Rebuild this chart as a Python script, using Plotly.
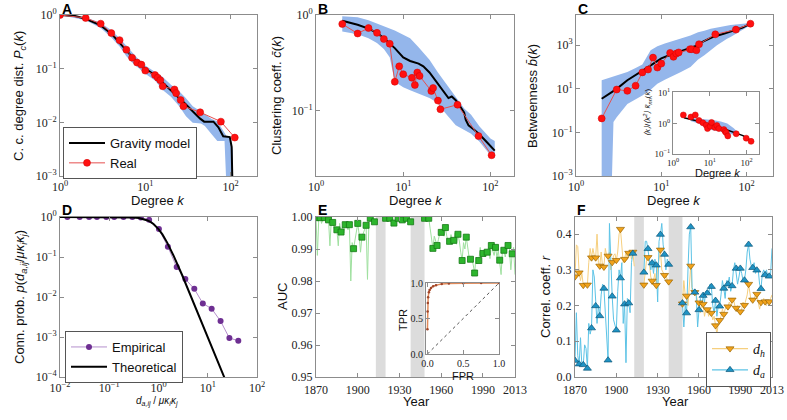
import plotly.graph_objects as go

# ---------------- Panel A : connected-component degree distribution ----------------
a_real_k = [1, 2, 3, 4, 5, 6, 7, 8, 9, 10, 13, 14, 15, 16, 22, 23, 26, 28, 44, 77, 112]
a_real_p = [1.0, 0.88, 0.69, 0.46, 0.34, 0.226, 0.16, 0.13, 0.119, 0.092, 0.076, 0.068,
            0.061, 0.047, 0.041, 0.035, 0.026, 0.020, 0.0154, 0.0103, 0.0052]
a_model_k = [1, 1.5, 2, 3, 4, 5, 6, 7, 10, 13, 16, 22, 28, 36.6, 44, 49, 63, 72, 82, 98, 103, 105]
a_model_p = [1.0, 0.96, 0.85, 0.64, 0.45, 0.31, 0.22, 0.165, 0.1, 0.075, 0.054, 0.034, 0.024,
             0.0156, 0.0117, 0.0103, 0.0103, 0.0081, 0.0055, 0.0053, 0.0035, 0.0008]
a_band_k = [1, 2, 3, 4, 5, 6, 7, 8, 10, 13, 16, 20, 25, 30, 36, 45, 50, 60, 70, 85, 90, 100, 106]
a_band_hi = [1.0, 0.9, 0.72, 0.52, 0.37, 0.27, 0.2, 0.16, 0.115, 0.088, 0.07, 0.05, 0.038, 0.028,
             0.02, 0.016, 0.014, 0.0115, 0.0105, 0.0065, 0.0055, 0.005, 0.003]
a_band_lo = [1.0, 0.8, 0.57, 0.38, 0.26, 0.17, 0.13, 0.11, 0.08, 0.06, 0.04, 0.03, 0.02, 0.013,
             0.0098, 0.0095, 0.0085, 0.006, 0.0045, 0.0045, 0.0005, 0.0005, 0.0005]

# ---------------- Panel B : clustering ----------------
b_real_k = [2, 3, 4, 5, 6, 7, 8, 9, 10, 12.6, 13.6, 14.5, 15.4, 21, 22, 25, 26.7, 41.9, 73, 103]
b_real_c = [0.805, 0.64, 0.73, 0.65, 0.56, 0.50, 0.20, 0.29, 0.24, 0.22, 0.185, 0.25, 0.23,
            0.16, 0.172, 0.127, 0.103, 0.115, 0.054, 0.034]
b_model_k = [2, 3, 4, 5, 6, 7, 8, 10, 12, 15, 17, 20, 23, 27, 30, 33, 36, 40, 45, 50, 52, 56, 65, 75, 90, 112]
b_model_c = [0.87, 0.79, 0.72, 0.65, 0.57, 0.5, 0.45, 0.36, 0.33, 0.31, 0.29, 0.25, 0.21, 0.17,
             0.15, 0.135, 0.14, 0.128, 0.11, 0.095, 0.08, 0.07, 0.063, 0.056, 0.047, 0.038]
b_band_k = [2, 3, 4, 5, 6, 7, 8, 10, 12, 15, 20, 25, 30, 40, 50, 60, 75, 100, 112]
b_band_hi = [0.97, 0.95, 0.88, 0.81, 0.76, 0.72, 0.69, 0.62, 0.57, 0.46, 0.34, 0.25, 0.2, 0.14,
             0.105, 0.09, 0.068, 0.051, 0.048]
b_band_lo = [0.67, 0.63, 0.57, 0.51, 0.44, 0.36, 0.2, 0.175, 0.163, 0.15, 0.135, 0.12, 0.095,
             0.07, 0.062, 0.057, 0.047, 0.034, 0.032]

# ---------------- Panel C : betweenness ----------------
c_real_k = [2, 3, 4, 5, 6, 7, 8, 9, 10, 12.7, 13.9, 15, 16, 21.7, 22.8, 25.8, 27.7, 43, 75, 111]
c_real_b = [0.44, 9.3, 8.1, 14, 57, 77, 272, 95, 145, 447, 295, 417, 470, 660, 660, 590, 1120,
            3180, 5240, 9800]
c_model_k = [2, 3, 4, 5, 6, 7, 8, 10, 12, 15, 20, 25, 30, 40, 55, 70, 90, 111]
c_model_b = [3.5, 10, 25, 45, 70, 100, 140, 250, 330, 450, 620, 900, 1400, 2400, 3500, 4800, 6500, 9800]
c_band_k = [2, 2.6, 2.75, 3, 4, 5, 6, 7.5, 9, 11, 14, 17, 22, 27, 32, 38, 45, 59, 65, 85, 111]
c_band_hi = [25, 35, 37, 40, 60, 90, 130, 590, 900, 1200, 1600, 2000, 2800, 4000, 4600, 5800,
             6500, 8300, 8600, 9500, 10500]
c_band_lo = [1e-4, 1e-4, 0.3, 0.5, 2.0, 3.2, 5, 9, 17, 26, 43, 60, 100, 220, 350, 600, 1000,
             2000, 2400, 4500, 8300]
# inset: normalised average nearest-neighbour degree
ci_real_k = [1.91, 3.08, 4.04, 5.08, 6.5, 8.0, 8.7, 10.3, 11.2, 13.8, 15.6, 17.7, 24.2, 26.2,
             28.0, 31, 52.5, 98, 133]
ci_real_v = [1.9, 1.63, 1.9, 1.26, 1.05, 0.88, 0.68, 0.81, 1.08, 0.74, 0.86, 0.68, 0.63, 0.55,
             0.5, 0.39, 0.46, 0.33, 0.26]
ci_model_k = [2, 5, 10, 20, 40, 80, 130]
ci_model_v = [1.55, 1.2, 0.95, 0.72, 0.55, 0.4, 0.28]
ci_band_k = [3, 5, 8, 12, 20, 30, 45, 60]
ci_band_hi = [1.5, 1.45, 1.4, 1.3, 1.15, 1.0, 0.7, 0.5]
ci_band_lo = [1.2, 1.0, 0.7, 0.6, 0.55, 0.5, 0.42, 0.4]

# ---------------- Panel D : connection probability ----------------
d_emp_x = [0.0141, 0.0251, 0.0389, 0.0562, 0.0871, 0.126, 0.195, 0.295, 0.437, 0.646, 1.02,
           1.55, 2.34, 3.51, 5.33, 7.94, 12.0, 18.2, 27.5, 41.7]
d_emp_p = [1.0, 1.0, 1.0, 1.0, 1.0, 1.0, 1.0, 1.0, 0.97, 0.85, 0.5, 0.18, 0.056, 0.028, 0.016,
           0.0069, 0.0051, 0.0025, 0.00094, 0.00081]
d_th_x = [0.01, 0.1, 0.2, 0.3, 0.4, 0.5, 0.6, 0.7, 0.8, 1.0, 1.2, 1.5, 2, 3, 5, 10, 23]
d_th_p = [1.0, 0.999, 0.992, 0.974, 0.94, 0.889, 0.822, 0.745, 0.661, 0.5, 0.367, 0.229, 0.111,
          0.036, 0.008, 0.001, 0.000082]

# ---------------- Panels E & F : yearly series ----------------
years = list(range(1870, 2014))
N = None
auc_year = [0.9998, 0.988, 0.9995, 0.9998, 0.998, 0.9995, 0.9998, 0.9985, 0.9995, 0.9991,
            0.991, 0.999, 0.9983, 0.9965, 0.995, 0.9960, 0.991, 0.998, 0.9953, 0.997,
            0.995, 0.9976, 0.998, 0.996, 0.9976, 0.980, 0.992, 0.9901, 0.993, 0.9955,
            0.9980, 0.9945, 0.989, 0.9937, 0.995, 0.9965, 0.9974, 0.9805, 0.998, 0.9996,
            0.9995, 0.9992, 0.9985, 0.999, N, N, N, N, N, N,
            0.9996, 0.9993, 0.9997, 0.9996, 0.9985, 0.9995, 0.9981, 0.999, 0.9995, 0.9996,
            0.9985, 0.9995, 0.9991, 0.999, 0.9995, 0.9996, 0.9985, 0.999, 0.9985,
            N, N, N, N, N, N, N, N, N,
            0.9996, 0.9995, 0.9998, 0.9996, 0.9965, 0.993, 0.9902, 0.994, 0.9925, 0.9911,
            0.993, 0.995, 0.9952, 0.996, 0.994, 0.9967, 0.994, 0.992, 0.9924, 0.9945,
            0.993, 0.9927, 0.995, 0.9915, 0.9946, 0.9925, 0.989, 0.9864, 0.992, 0.990,
            0.9937, 0.990, 0.9875, 0.9868, 0.987, 0.985, 0.9825, 0.9875, 0.9855, 0.9864,
            0.9905, 0.9875, 0.9886, 0.9875, 0.9895, 0.9890, 0.9905, 0.987, 0.9911, 0.9895,
            0.988, 0.9905, 0.9875, 0.9895, 0.9865, 0.982, 0.9895, 0.9896, 0.9875, 0.990,
            0.9911, 0.990, 0.9835, 0.9885, 0.9905, 0.982]
dh_year = [0.281, 0.37, 0.365, 0.292, 0.27, 0.29, 0.257, 0.26, 0.255, 0.258,
           0.32, 0.36, 0.334, 0.36, 0.34, 0.334, 0.40, 0.32, 0.311, 0.35,
           0.31, 0.308, 0.36, 0.34, 0.339, 0.35, 0.30, 0.321, 0.34, 0.345,
           0.327, 0.35, 0.40, 0.414, 0.37, 0.32, 0.330, 0.35, 0.33, 0.347,
           0.35, 0.33, 0.350, 0.31, N, N, N, N, N, N,
           0.258, 0.30, 0.33, 0.335, 0.32, 0.28, 0.269, 0.27, 0.29, 0.257,
           0.31, 0.33, 0.356, 0.30, 0.29, 0.285, 0.29, 0.27, 0.267,
           N, N, N, N, N, N, N, N, N,
           0.205, 0.27, 0.23, 0.227, 0.20, 0.27, 0.311, 0.24, 0.23, 0.237,
           0.23, 0.21, 0.208, 0.18, 0.21, 0.204, 0.17, 0.19, 0.189, 0.17,
           0.19, 0.179, 0.16, 0.17, 0.144, 0.12, 0.15, 0.159, 0.17, 0.19,
           0.176, 0.19, 0.20, 0.197, 0.21, 0.20, 0.216, 0.22, 0.20, 0.193,
           0.20, 0.18, 0.183, 0.19, 0.21, 0.201, 0.22, 0.23, 0.260, 0.23,
           0.21, 0.216, 0.22, 0.23, 0.232, 0.21, 0.19, 0.209, 0.21, 0.22,
           0.211, 0.20, 0.21, 0.211, 0.22, 0.23]
da_year = [0.046, 0.18, 0.06, 0.036, 0.11, 0.03, 0.034, 0.09, 0.08, 0.024,
           0.15, 0.12, 0.137, 0.30, 0.28, 0.199, 0.15, 0.20, 0.171, 0.23,
           0.26, 0.248, 0.18, 0.10, 0.047, 0.43, 0.30, 0.226, 0.16, 0.14,
           0.131, 0.24, 0.30, 0.277, 0.32, 0.15, 0.204, 0.04, 0.22, 0.207,
           0.18, 0.32, 0.346, 0.34, N, N, N, N, N, N,
           0.293, 0.38, 0.38, 0.359, 0.33, 0.30, 0.319, 0.29, 0.33, 0.313,
           0.21, 0.38, 0.399, 0.43, 0.37, 0.343, 0.30, 0.33, 0.315,
           N, N, N, N, N, N, N, N, N,
           0.207, 0.14, 0.20, 0.179, 0.30, 0.40, 0.420, 0.25, 0.24, 0.237,
           0.23, 0.14, 0.188, 0.22, 0.20, 0.228, 0.21, 0.24, 0.235, 0.23,
           0.26, 0.253, 0.20, 0.18, 0.214, 0.17, 0.20, 0.198, 0.23, 0.27,
           0.248, 0.22, 0.27, 0.260, 0.28, 0.24, 0.255, 0.30, 0.32, 0.29,
           0.26, 0.28, 0.304, 0.29, 0.27, 0.271, 0.30, 0.35, 0.371, 0.33,
           0.31, 0.306, 0.32, 0.29, 0.299, 0.30, 0.26, 0.247, 0.29, 0.30,
           0.286, 0.30, 0.28, 0.282, 0.29, 0.36]

mark_years = [1870, 1873, 1876, 1879, 1882, 1885, 1888, 1891, 1894, 1897, 1900, 1903, 1906,
              1909, 1912, 1920, 1923, 1926, 1929, 1932, 1935, 1938, 1948, 1951, 1954, 1957,
              1960, 1963, 1966, 1969, 1972, 1975, 1978, 1981, 1984, 1987, 1990, 1993, 1996,
              1999, 2002, 2005, 2008, 2011]
auc_mark = [0.9998, 0.9998, 0.9998, 0.9991, 0.9983, 0.9960, 0.9953, 0.9976, 0.9976, 0.9901,
            0.9980, 0.9937, 0.9974, 0.9996, 0.9985, 0.9996, 0.9996, 0.9981, 0.9996, 0.9991,
            0.9996, 0.9985, 0.9996, 0.9996, 0.9902, 0.9911, 0.9952, 0.9967, 0.9924, 0.9927,
            0.9946, 0.9864, 0.9937, 0.9868, 0.9825, 0.9864, 0.9886, 0.9890, 0.9911, 0.9905,
            0.9865, 0.9896, 0.9911, 0.9885]
dh_mark = [0.281, 0.292, 0.257, 0.258, 0.334, 0.334, 0.311, 0.308, 0.339, 0.321, 0.327, 0.414,
           0.330, 0.347, 0.350, 0.258, 0.335, 0.269, 0.257, 0.356, 0.285, 0.267, 0.205, 0.227,
           0.311, 0.237, 0.208, 0.204, 0.189, 0.179, 0.144, 0.159, 0.176, 0.197, 0.216, 0.193,
           0.183, 0.201, 0.260, 0.216, 0.232, 0.209, 0.211, 0.211]
da_mark = [0.046, 0.036, 0.034, 0.024, 0.137, 0.199, 0.171, 0.248, 0.047, 0.226, 0.131, 0.277,
           0.204, 0.207, 0.346, 0.293, 0.359, 0.319, 0.313, 0.399, 0.343, 0.315, 0.207, 0.179,
           0.420, 0.237, 0.188, 0.228, 0.235, 0.253, 0.214, 0.198, 0.248, 0.260, 0.255, 0.304,
           0.304, 0.271, 0.371, 0.306, 0.299, 0.247, 0.286, 0.282]
war_periods = [(1913, 1920), (1938, 1948)]

# ROC inset
roc_fpr = [0.0, 0.002, 0.005, 0.01, 0.02, 0.03, 0.05, 0.08, 0.12, 0.2, 0.3, 0.5, 0.75, 1.0]
roc_tpr = [0.35, 0.6, 0.72, 0.8, 0.87, 0.9, 0.93, 0.955, 0.97, 0.985, 0.993, 0.998, 1.0, 1.0]
diag = [0.0, 1.0]

# ---------------- styling helpers ----------------
W, H = 787, 420
SERIF = 'Liberation Serif'
SANS = 'Liberation Sans'
FRAME = '#8c8c8c'
BAND = '#94b6eb'


def px_dom_x(a, b):
    return [a / W, b / W]


def px_dom_y(top, bottom):
    return [1 - bottom / H, 1 - top / H]


def axis(domain, anchor, rng, log=False, tickvals=None, ticktext=None, tsize=12, standoff=0):
    d = dict(domain=domain, anchor=anchor, range=rng, type='log' if log else 'linear',
             showline=True, linecolor=FRAME, linewidth=1, mirror='ticks', ticks='inside',
             ticklen=4, tickwidth=1, tickcolor=FRAME, showgrid=False, zeroline=False,
             automargin=False, ticklabelstandoff=standoff,
             tickfont=dict(family=SERIF, size=tsize, color='#222'))
    if tickvals is not None:
        d['tickmode'] = 'array'
        d['tickvals'] = tickvals
        d['ticktext'] = ticktext
    return d


def pow10(ex):
    return ['10<sup>%s</sup>' % (str(e).replace('-', '\u2212')) for e in ex]


fig = go.Figure()

# ----- Panel A -----
fig.add_trace(go.Scatter(x=a_band_k, y=a_band_lo, mode='lines', line=dict(width=0, color=BAND),
                         showlegend=False, xaxis='x', yaxis='y', hoverinfo='skip'))
fig.add_trace(go.Scatter(x=a_band_k, y=a_band_hi, mode='lines', line=dict(width=0, color=BAND),
                         fill='tonexty', fillcolor=BAND, showlegend=False, xaxis='x', yaxis='y'))
fig.add_trace(go.Scatter(x=a_model_k, y=a_model_p, mode='lines', name='Gravity model',
                         line=dict(color='black', width=2), xaxis='x', yaxis='y', legend='legend'))
fig.add_trace(go.Scatter(x=a_real_k, y=a_real_p, mode='lines+markers', name='Real',
                         line=dict(color='#e65050', width=1),
                         marker=dict(color='#ff1010', size=7, line=dict(color='#d00000', width=0.5)),
                         xaxis='x', yaxis='y', legend='legend'))

# ----- Panel B -----
fig.add_trace(go.Scatter(x=b_band_k, y=b_band_lo, mode='lines', line=dict(width=0, color=BAND),
                         showlegend=False, xaxis='x2', yaxis='y2'))
fig.add_trace(go.Scatter(x=b_band_k, y=b_band_hi, mode='lines', line=dict(width=0, color=BAND),
                         fill='tonexty', fillcolor=BAND, showlegend=False, xaxis='x2', yaxis='y2'))
fig.add_trace(go.Scatter(x=b_model_k, y=b_model_c, mode='lines', line=dict(color='black', width=2),
                         showlegend=False, xaxis='x2', yaxis='y2'))
fig.add_trace(go.Scatter(x=b_real_k, y=b_real_c, mode='lines+markers', line=dict(color='#e65050', width=1),
                         marker=dict(color='#ff1010', size=7, line=dict(color='#d00000', width=0.5)),
                         showlegend=False, xaxis='x2', yaxis='y2'))

# ----- Panel C -----
fig.add_trace(go.Scatter(x=c_band_k, y=c_band_lo, mode='lines', line=dict(width=0, color=BAND),
                         showlegend=False, xaxis='x3', yaxis='y3'))
fig.add_trace(go.Scatter(x=c_band_k, y=c_band_hi, mode='lines', line=dict(width=0, color=BAND),
                         fill='tonexty', fillcolor=BAND, showlegend=False, xaxis='x3', yaxis='y3'))
fig.add_trace(go.Scatter(x=c_model_k, y=c_model_b, mode='lines', line=dict(color='black', width=2),
                         showlegend=False, xaxis='x3', yaxis='y3'))
fig.add_trace(go.Scatter(x=c_real_k, y=c_real_b, mode='lines+markers', line=dict(color='#e65050', width=1),
                         marker=dict(color='#ff1010', size=7, line=dict(color='#d00000', width=0.5)),
                         showlegend=False, xaxis='x3', yaxis='y3'))
# inset C
fig.add_trace(go.Scatter(x=ci_band_k, y=ci_band_lo, mode='lines', line=dict(width=0, color=BAND),
                         showlegend=False, xaxis='x7', yaxis='y7'))
fig.add_trace(go.Scatter(x=ci_band_k, y=ci_band_hi, mode='lines', line=dict(width=0, color=BAND),
                         fill='tonexty', fillcolor=BAND, showlegend=False, xaxis='x7', yaxis='y7'))
fig.add_trace(go.Scatter(x=ci_model_k, y=ci_model_v, mode='lines', line=dict(color='black', width=1.5),
                         showlegend=False, xaxis='x7', yaxis='y7'))
fig.add_trace(go.Scatter(x=ci_real_k, y=ci_real_v, mode='markers',
                         marker=dict(color='#ff1010', size=6, line=dict(color='#d00000', width=0.5)),
                         showlegend=False, xaxis='x7', yaxis='y7'))

# ----- Panel D -----
fig.add_trace(go.Scatter(x=d_emp_x, y=d_emp_p, mode='lines+markers', name='Empirical',
                         line=dict(color='#b58fcc', width=1),
                         marker=dict(color='#6e2f92', size=6), xaxis='x4', yaxis='y4', legend='legend2'))
fig.add_trace(go.Scatter(x=d_th_x, y=d_th_p, mode='lines', name='Theoretical',
                         line=dict(color='black', width=2), xaxis='x4', yaxis='y4', legend='legend2'))

# ----- Panel E -----
fig.add_trace(go.Scatter(x=years, y=auc_year, mode='lines', line=dict(color='#9fe09f', width=1),
                         connectgaps=False, showlegend=False, xaxis='x5', yaxis='y5'))
fig.add_trace(go.Scatter(x=mark_years, y=auc_mark, mode='markers',
                         marker=dict(symbol='square', color='#2db52d', size=6,
                                     line=dict(color='#157a15', width=0.8)),
                         showlegend=False, xaxis='x5', yaxis='y5'))
fig.add_trace(go.Scatter(x=diag, y=diag, mode='lines', line=dict(color='#555', width=1, dash='dot'),
                         showlegend=False, xaxis='x8', yaxis='y8'))
fig.add_trace(go.Scatter(x=roc_fpr, y=roc_tpr, mode='lines+markers', line=dict(color='#e08a5a', width=1.5),
                         marker=dict(color='#a0462a', size=2.5), showlegend=False, xaxis='x8', yaxis='y8'))

# ----- Panel F -----
fig.add_trace(go.Scatter(x=years, y=dh_year, mode='lines', line=dict(color='#f6cf7e', width=1),
                         connectgaps=False, showlegend=False, xaxis='x6', yaxis='y6'))
fig.add_trace(go.Scatter(x=years, y=da_year, mode='lines', line=dict(color='#5cc3e6', width=1),
                         connectgaps=False, showlegend=False, xaxis='x6', yaxis='y6'))
DH_MARK = dict(symbol='triangle-down', color='#f2a31b', size=7, line=dict(color='#9a6400', width=0.7))
DA_MARK = dict(symbol='triangle-up', color='#1f93c4', size=7, line=dict(color='#0b5678', width=0.7))
fig.add_trace(go.Scatter(x=mark_years, y=dh_mark, mode='markers', marker=DH_MARK,
                         showlegend=False, xaxis='x6', yaxis='y6'))
fig.add_trace(go.Scatter(x=mark_years, y=da_mark, mode='markers', marker=DA_MARK,
                         showlegend=False, xaxis='x6', yaxis='y6'))
# legend-only entries
fig.add_trace(go.Scatter(x=[None], y=[None], mode='lines+markers', name='<i>d<sub>h</sub></i>',
                         line=dict(color='#f6cf7e', width=1.2), marker=DH_MARK,
                         xaxis='x6', yaxis='y6', legend='legend3'))
fig.add_trace(go.Scatter(x=[None], y=[None], mode='lines+markers', name='<i>d<sub>a</sub></i>',
                         line=dict(color='#5cc3e6', width=1.2), marker=DA_MARK,
                         xaxis='x6', yaxis='y6', legend='legend3'))

# war shading
shapes = []
for ax_id in ['5', '6']:
    for (y0, y1) in war_periods:
        shapes.append(dict(type='rect', xref='x' + ax_id, yref='y' + ax_id + ' domain',
                           x0=y0, x1=y1, y0=0, y1=1, fillcolor='#dcdcdc', line=dict(width=0),
                           layer='below'))

# ---------------- layout ----------------
top_dom = px_dom_y(15, 176)
bot_dom = px_dom_y(217, 377)
dom_col1 = px_dom_x(60, 257)
dom_col2 = px_dom_x(316, 514)
dom_col3 = px_dom_x(576, 773)

kvals = [1, 10, 100]
ktext = pow10([0, 1, 2])
year_ticks = [1870, 1900, 1930, 1960, 1990, 2013]
year_text = [str(y) for y in year_ticks]

LEG = dict(xanchor='left', yanchor='top', bgcolor='white', bordercolor='#555', borderwidth=1,
           font=dict(family=SANS, size=13, color='#111'), tracegroupgap=0, itemwidth=36,
           traceorder='normal')

layout = dict(
    template='none',
    width=W, height=H, margin=dict(l=0, r=0, t=0, b=0, autoexpand=False),
    paper_bgcolor='white', plot_bgcolor='white', shapes=shapes,
    xaxis=axis(dom_col1, 'y', [0, 2.31], log=True, tickvals=kvals, ticktext=ktext),
    yaxis=axis(top_dom, 'x', [-3, 0], log=True, tickvals=[1e-3, 1e-2, 1e-1, 1],
               ticktext=pow10([-3, -2, -1, 0])),
    xaxis2=axis(dom_col2, 'y2', [0, 2.27], log=True, tickvals=kvals, ticktext=ktext),
    yaxis2=axis(top_dom, 'x2', [-1.686, 0], log=True, tickvals=[0.1, 1], ticktext=pow10([-1, 0])),
    xaxis3=axis(dom_col3, 'y3', [0, 2.31], log=True, tickvals=kvals, ticktext=ktext),
    yaxis3=axis(top_dom, 'x3', [-3, 4.39], log=True, tickvals=[1e-3, 1e-1, 10, 1000],
                ticktext=pow10([-3, -1, 1, 3])),
    xaxis4=axis(dom_col1, 'y4', [-2, 2], log=True, tickvals=[0.01, 0.1, 1, 10, 100],
                ticktext=pow10([-2, -1, 0, 1, 2])),
    yaxis4=axis(bot_dom, 'x4', [-4, 0], log=True, tickvals=[1e-4, 1e-3, 1e-2, 1e-1, 1],
                ticktext=pow10([-4, -3, -2, -1, 0])),
    xaxis5=axis(px_dom_x(316, 515), 'y5', [1870, 2013], tickvals=year_ticks, ticktext=year_text,
                standoff=2),
    yaxis5=axis(bot_dom, 'x5', [0.95, 1.0], tickvals=[0.95, 0.96, 0.97, 0.98, 0.99, 1.0],
                ticktext=['0.95', '0.96', '0.97', '0.98', '0.99', '1.00']),
    xaxis6=axis(px_dom_x(575, 772), 'y6', [1870, 2013], tickvals=year_ticks, ticktext=year_text,
                standoff=2),
    yaxis6=axis(bot_dom, 'x6', [0, 0.448], tickvals=[0, 0.1, 0.2, 0.3, 0.4],
                ticktext=['0.0', '0.1', '0.2', '0.3', '0.4']),
    xaxis7=axis(px_dom_x(673, 759), 'y7', [0, 2.34], log=True, tickvals=kvals, ticktext=ktext, tsize=9),
    yaxis7=axis(px_dom_y(92, 154), 'x7', [-1, 1.03], log=True, tickvals=[0.1, 1, 10],
                ticktext=pow10([-1, 0, 1]), tsize=9),
    xaxis8=axis(px_dom_x(426, 499), 'y8', [-0.02, 1.0], tickvals=[0, 0.5, 1.0],
                ticktext=['0.0', '0.5', '1.0'], tsize=10),
    yaxis8=axis(px_dom_y(283, 354), 'x8', [0, 1.0], tickvals=[0, 0.5, 1.0],
                ticktext=['0.0', '0.5', '1.0'], tsize=10),
    legend=dict(LEG, x=63 / W, y=1 - 127 / H),
    legend2=dict(LEG, x=65 / W, y=1 - 331 / H),
    legend3=dict(LEG, x=771 / W, y=1 - 332 / H, xanchor='right',
                 font=dict(family=SERIF, size=14, color='#111')),
    showlegend=True,
)

# panel letters
letters = [('A', 60, 9), ('B', 316, 9), ('C', 576, 9), ('D', 60, 210), ('E', 316, 210), ('F', 575, 210)]
ann = [dict(text='<b>%s</b>' % t, x=xp / W, y=1 - yp / H, xref='paper', yref='paper',
            xanchor='left', yanchor='middle', showarrow=False,
            font=dict(family=SANS, size=14, color='black'))
       for t, xp, yp in letters]

# axis titles (text, centre x px, centre y px, angle, size)
kk = '<i>k</i>'
titles = [
    ('Degree ' + kk, 158, 200, 0, 13),
    ('C. c. degree dist. <i>P<sub>c</sub></i>(<i>k</i>)', 20, 96, -90, 13),
    ('Degree ' + kk, 416, 200, 0, 13),
    ('Clustering coeff. <i>c\u0304</i>(<i>k</i>)', 277, 96, -90, 13),
    ('Degree ' + kk, 674, 200, 0, 13),
    ('Betweenness <i>b\u0304</i>(<i>k</i>)', 533, 96, -90, 13),
    ('Degree ' + kk, 717, 173, 0, 11),
    ('<i>\u27e8k\u27e9</i>/<i>\u27e8k<sup>2</sup>\u27e9</i> <i>k\u0304<sub>nn</sub></i>(<i>k</i>)',
     648, 112, -90, 8),
    ('<i>d<sub>a,ij</sub></i> / <i>\u03bc\u03ba<sub>i</sub>\u03ba<sub>j</sub></i>', 157, 401, 0, 10),
    ('Conn. prob. <i>p</i>(<i>d<sub>a,ij</sub></i>/<i>\u03bc\u03ba<sub>i</sub>\u03ba<sub>j</sub></i>)',
     20, 297, -90, 13),
    ('Year', 416, 401, 0, 13),
    ('AUC', 282, 297, -90, 13),
    ('FPR', 463, 376, 0, 11),
    ('TPR', 403, 320, -90, 11),
    ('Year', 675, 401, 0, 13),
    ('Correl. coeff. <i>r</i>', 545, 297, -90, 13),
]
for txt, xp, yp, ang, sz in titles:
    ann.append(dict(text=txt, x=xp / W, y=1 - yp / H, xref='paper', yref='paper',
                    xanchor='center', yanchor='middle', textangle=ang, showarrow=False,
                    font=dict(family=SANS, size=sz, color='#111')))
layout['annotations'] = ann

fig.update_layout(**layout)
fig.write_html("out.html", config={'displayModeBar': False},
               post_script="document.body.style.margin='0';document.body.style.overflow='hidden';")
